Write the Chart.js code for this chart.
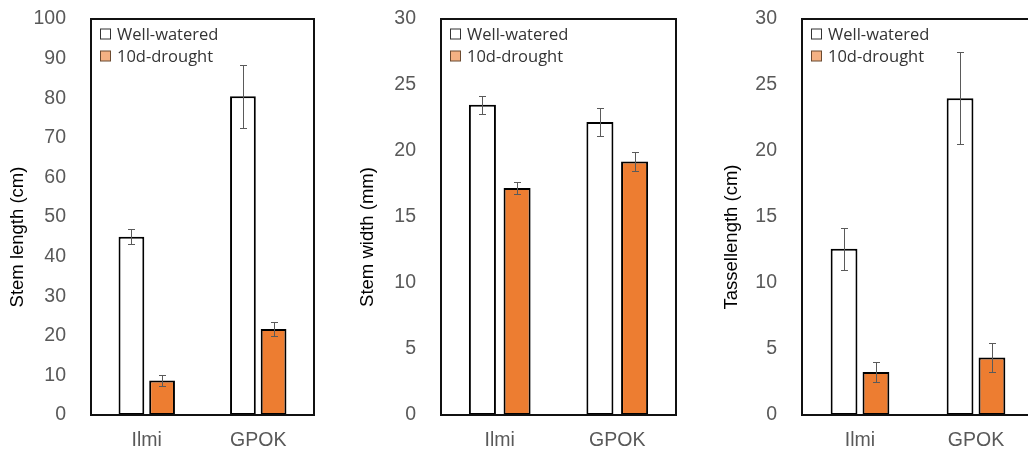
<!DOCTYPE html>
<html>
<head>
<meta charset="utf-8">
<script src="https://cdn.jsdelivr.net/npm/chart.js@4.4.1/dist/chart.umd.min.js"></script>
<style>
  html, body { margin:0; padding:0; background:#fff; width:1028px; height:453px; overflow:hidden; position:relative; }
  .wrap { position:absolute; top:0; height:453px; }
  canvas { display:block; }
</style>
</head>
<body>
<div class="wrap" style="left:0px;width:335px"><canvas id="c1" width="335" height="453"></canvas></div>
<div class="wrap" style="left:345px;width:345px"><canvas id="c2" width="345" height="453"></canvas></div>
<div class="wrap" style="left:700px;width:350px"><canvas id="c3" width="350" height="453"></canvas></div>
<script>
// ---- data ----
const categories = ['Ilmi', 'GPOK'];
const seriesNames = ['Well-watered', '10d-drought'];

const stemLengthWW = [45.0, 80.5];
const stemLengthWWErr = [1.9, 8.0];
const stemLengthDrought = [8.7, 21.7];
const stemLengthDroughtErr = [1.4, 1.8];

const stemWidthWW = [23.5, 22.2];
const stemWidthWWErr = [0.7, 1.05];
const stemWidthDrought = [17.2, 19.2];
const stemWidthDroughtErr = [0.45, 0.7];

const tasselWW = [12.6, 24.0];
const tasselWWErr = [1.6, 3.5];
const tasselDrought = [3.25, 4.35];
const tasselDroughtErr = [0.75, 1.1];

const yMax = [100, 30, 30];
const yStep = [10, 5, 5];
const yTitles = ['Stem length (cm)', 'Stem width (mm)', 'Tassellength (cm)'];

// ---- styling ----
const FONT = "'Liberation Sans', Arial, sans-serif";
const LEGEND_FONT = "'Open Sans', 'Noto Sans', sans-serif";
const wwFill = '#FFFFFF';
const drFill = '#ED7D31';
const legendSwatch = ['#FFFFFF', '#F4B183'];

const errorBarPlugin = {
  id: 'errorBars',
  afterDatasetsDraw(chart) {
    const ctx = chart.ctx;
    const yScale = chart.scales.y;
    ctx.save();
    ctx.strokeStyle = '#5a5a5a';
    ctx.lineWidth = 1;
    chart.data.datasets.forEach((ds, di) => {
      const meta = chart.getDatasetMeta(di);
      meta.data.forEach((bar, i) => {
        const v = ds.data[i], e = ds.errors[i];
        const yt = Math.round(yScale.getPixelForValue(v + e)) + 0.5;
        const yb = Math.round(yScale.getPixelForValue(v - e)) + 0.5;
        const x = Math.round(bar.x) + 0.5;
        ctx.beginPath();
        ctx.moveTo(x, yt); ctx.lineTo(x, yb);
        ctx.moveTo(x - 3.5, yt); ctx.lineTo(x + 3.5, yt);
        ctx.moveTo(x - 3.5, yb); ctx.lineTo(x + 3.5, yb);
        ctx.stroke();
      });
    });
    ctx.restore();
  }
};

const framePlugin = {
  id: 'frame',
  afterDraw(chart) {
    const a = chart.chartArea;
    const ctx = chart.ctx;
    ctx.save();
    ctx.strokeStyle = '#111';
    ctx.lineWidth = 2;
    ctx.strokeRect(a.left, a.top, a.right - a.left, a.bottom - a.top);
    ctx.restore();
  }
};

const insideLegendPlugin = {
  id: 'insideLegend',
  afterDraw(chart) {
    const a = chart.chartArea;
    const ctx = chart.ctx;
    ctx.save();
    ctx.font = '16.5px ' + LEGEND_FONT;
    ctx.textBaseline = 'middle';
    chart.data.datasets.forEach((ds, i) => {
      const cy = a.top + 15 + i * 22;
      const sx = a.left + 9.5;
      ctx.fillStyle = legendSwatch[i];
      ctx.fillRect(sx, cy - 5, 10, 10);
      ctx.strokeStyle = i === 0 ? '#333' : '#6b4a30';
      ctx.lineWidth = 1;
      ctx.strokeRect(sx, cy - 5, 10, 10);
      ctx.fillStyle = '#333';
      ctx.fillText(ds.label, a.left + 26, cy + 1);
    });
    ctx.restore();
  }
};

const yTitlePlugin = {
  id: 'yTitle',
  afterDraw(chart, args, opts) {
    const ctx = chart.ctx;
    ctx.save();
    ctx.translate(opts.x, opts.y);
    ctx.rotate(-Math.PI / 2);
    ctx.font = '18.5px ' + FONT;
    ctx.fillStyle = '#000';
    ctx.textAlign = 'center';
    ctx.textBaseline = 'middle';
    ctx.fillText(opts.text, 0, 0);
    ctx.restore();
  }
};

function makeChart(id, ww, wwErr, dr, drErr, idx, yWidth, padRight, titleX, catPct, barPct) {
  return new Chart(document.getElementById(id), {
    type: 'bar',
    data: {
      labels: categories,
      datasets: [
        { label: seriesNames[0], data: ww, errors: wwErr, backgroundColor: wwFill, borderColor: '#000', borderWidth: 2, borderSkipped: false },
        { label: seriesNames[1], data: dr, errors: drErr, backgroundColor: drFill, borderColor: '#000', borderWidth: 2, borderSkipped: false }
      ]
    },
    options: {
      responsive: false,
      animation: false,
      events: [],
      layout: { padding: { left: 0, right: padRight, top: 19, bottom: 0 } },
      datasets: { bar: { categoryPercentage: catPct, barPercentage: barPct } },
      plugins: {
        legend: { display: false },
        tooltip: { enabled: false },
        yTitle: { text: yTitles[idx], x: titleX, y: 237 }
      },
      scales: {
        x: {
          grid: { display: false, drawTicks: false },
          border: { display: false },
          ticks: { color: '#595959', font: { family: FONT, size: 19.5 }, padding: 14 },
          afterFit(s) { s.height = 38; s.paddingLeft = 0; s.paddingRight = 0; }
        },
        y: {
          min: 0, max: yMax[idx],
          grid: { display: false, drawTicks: false },
          border: { display: false },
          ticks: { stepSize: yStep[idx], color: '#595959', font: { family: FONT, size: 19.5 }, padding: 25 },
          afterFit(s) { s.width = yWidth; s.paddingTop = 0; s.paddingBottom = 0; }
        }
      }
    },
    plugins: [errorBarPlugin, framePlugin, insideLegendPlugin, yTitlePlugin]
  });
}

makeChart('c1', stemLengthWW, stemLengthWWErr, stemLengthDrought, stemLengthDroughtErr, 0, 91, 21, 18, 0.55, 0.84);
makeChart('c2', stemWidthWW, stemWidthWWErr, stemWidthDrought, stemWidthDroughtErr, 1, 96, 14, 368 - 345, 0.59, 0.78);
makeChart('c3', tasselWW, tasselWWErr, tasselDrought, tasselDroughtErr, 2, 102, 16, 732 - 700, 0.55, 0.84);
</script>
</body>
</html>
